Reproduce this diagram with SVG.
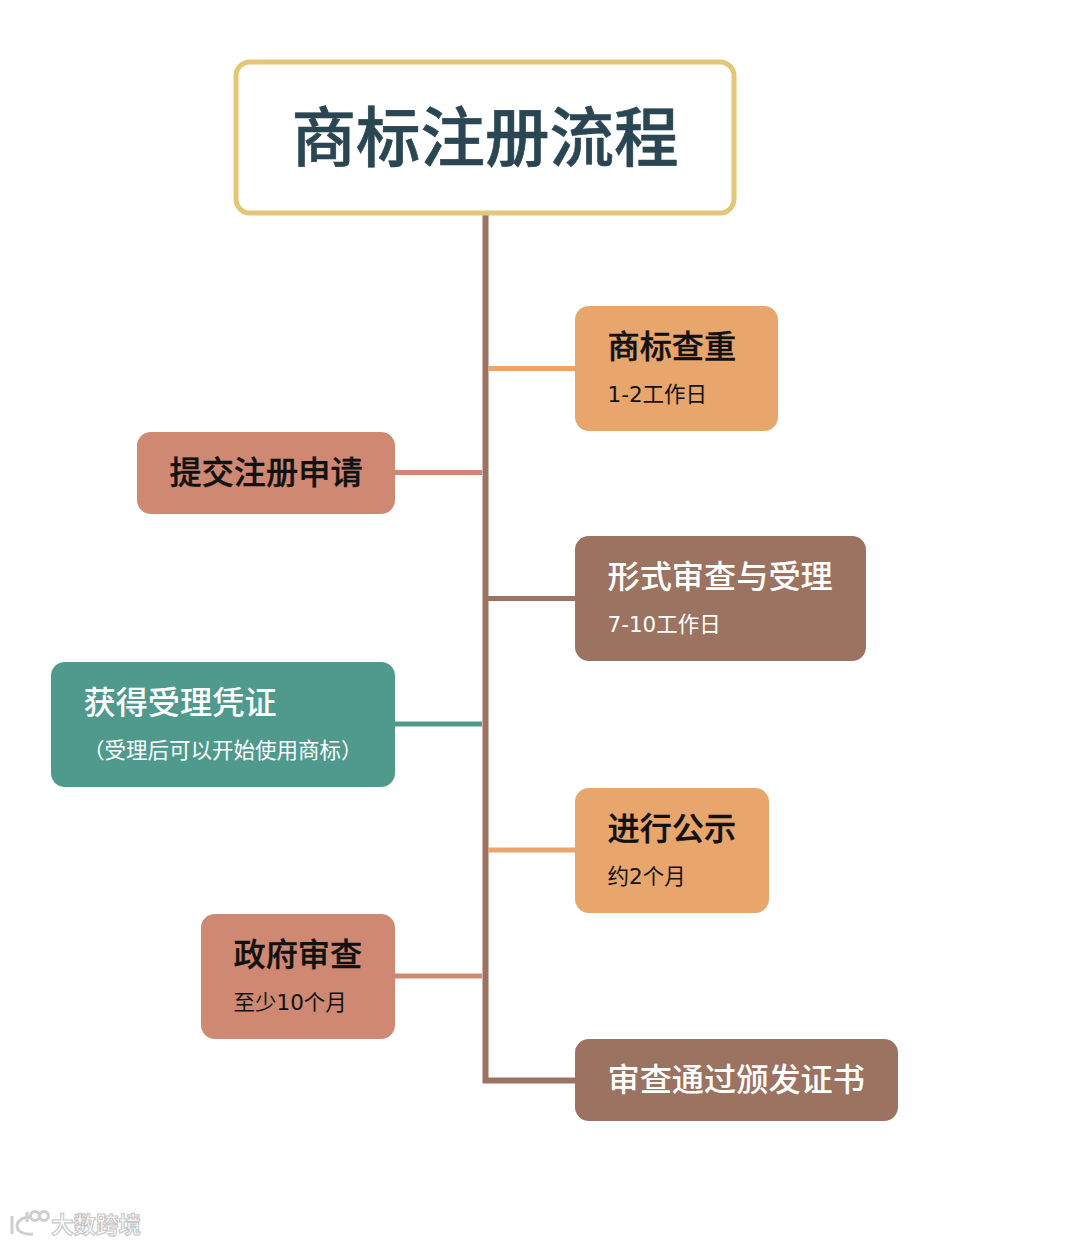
<svg xmlns="http://www.w3.org/2000/svg" width="1080" height="1244" viewBox="0 0 1080 1244">
<style>
text{font-family:"DejaVu Sans","Noto Sans CJK SC",sans-serif}
.t{font-family:"Noto Sans CJK SC",sans-serif;font-size:32.200px;font-weight:500}
.s{font-size:21.500px;font-weight:400}
.k{fill:#111}
.t.k{stroke:#111;stroke-width:.35}
.w{fill:#fff}
.c{fill:none;stroke-width:5}
.wm{fill:#fff;stroke:#c9c9c9;stroke-width:1.2}
.lg{fill:none;stroke:#cfcfcf;stroke-width:3}
</style>
<rect width="1080" height="1244" fill="#fff"/>
<g id="connectors">
<path d="M485.500 215V1080.500H575" fill="none" stroke="#9c7360" stroke-width="6"/>
<path class="c" d="M488 368.500H575" stroke="#e8a56c"/>
<path class="c" d="M395 472.500H482" stroke="#cf8872"/>
<path class="c" d="M488 598.500H575" stroke="#9c7360"/>
<path class="c" d="M395 724H482" stroke="#4f9a8c"/>
<path class="c" d="M488 850H575" stroke="#e8a56c"/>
<path class="c" d="M395 976H482" stroke="#cf8872"/>
</g>
<g id="title"><rect x="236" y="62" width="498" height="151" rx="14" fill="#fff" stroke="#e3c676" stroke-width="5"/>
<text x="485" y="161" text-anchor="middle" font-size="64.500" font-weight="500" fill="#2a4653" stroke="#2a4653" stroke-width=".6" style="font-family:'Noto Sans CJK SC',sans-serif">商标注册流程</text></g>
<g id="n1"><rect x="575" y="306" width="203" height="125" rx="14" fill="#e8a56c"/><text class="t k" x="607.500" y="358">商标查重</text><text class="s k" x="607.500" y="402">1-2工作日</text></g>
<g id="n2"><rect x="137" y="432" width="258" height="82" rx="14" fill="#cf8872"/><text class="t k" x="169.500" y="484">提交注册申请</text></g>
<g id="n3"><rect x="575" y="536" width="291" height="125" rx="14" fill="#9c7360"/><text class="t w" x="607.500" y="588">形式审查与受理</text><text class="s w" x="607.500" y="632">7-10工作日</text></g>
<g id="n4"><rect x="51" y="662" width="344" height="125" rx="14" fill="#4f9a8c"/><text class="t w" x="83.500" y="714">获得受理凭证</text><text class="s w" x="83" y="758">（受理后可以开始使用商标）</text></g>
<g id="n5"><rect x="575" y="788" width="194" height="125" rx="14" fill="#e8a56c"/><text class="t k" x="607.500" y="840">进行公示</text><text class="s k" x="607.500" y="884">约2个月</text></g>
<g id="n6"><rect x="201" y="914" width="194" height="125" rx="14" fill="#cf8872"/><text class="t k" x="233.500" y="966">政府审查</text><text class="s k" x="233.500" y="1010">至少10个月</text></g>
<g id="n7"><rect x="575" y="1039" width="323" height="82" rx="14" fill="#9c7360"/><text class="t w" x="607.500" y="1091">审查通过颁发证书</text></g>
<g id="watermark"><path class="lg" d="M12 1216V1234M31 1217C20 1217 17 1223 17 1226C17 1231 23 1235 33 1234M27 1212V1222"/><circle class="lg" cx="35" cy="1216" r="4.500" stroke-width="2"/><circle class="lg" cx="44" cy="1216" r="4.500"/><text class="wm" x="51" y="1233" font-size="22.500" font-weight="700" style="font-family:'Noto Sans CJK SC',sans-serif">大数跨境</text></g>
</svg>
